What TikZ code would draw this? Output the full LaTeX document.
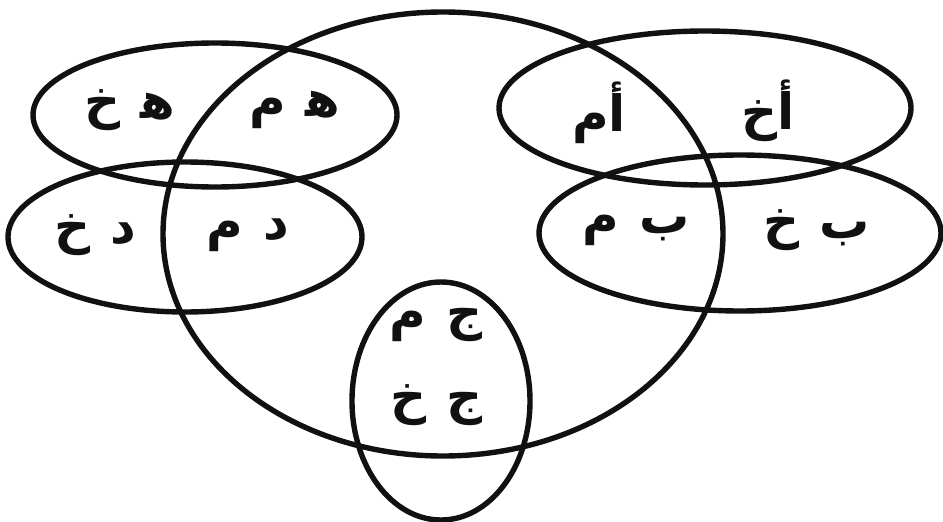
\documentclass[tikz,border=0pt]{standalone}
\usepackage{fontspec}
\usetikzlibrary{shapes.geometric}
\newfontfamily\arabicfont[Script=Arabic]{DejaVu Sans}
\TeXXeTstate=1
\definecolor{VInk}{HTML}{111111}
\tikzset{
  region/.style={draw=VInk,line width=5.4pt,ellipse,inner sep=0pt},
  pair/.style={text=VInk,font=\arabicfont\bfseries\fontsize{50}{56}\selectfont},
}
\newcommand{\rtl}[1]{\beginR #1\endR}

\begin{document}
\begin{tikzpicture}[x=1pt,y=-1pt]
  \useasboundingbox (0,0) rectangle (943,522);
  % the big set and the five small ones
  \node[region,minimum width=560pt,minimum height=444pt] (whole) at (443,234) {};
  \node[region,minimum width=364pt,minimum height=144pt] (seth) at (215,115) {};
  \node[region,minimum width=354pt,minimum height=150pt] (setd) at (185,237) {};
  \node[region,minimum width=412pt,minimum height=154pt] (seta) at (705,108) {};
  \node[region,minimum width=402pt,minimum height=156pt] (setb) at (740,233) {};
  \node[region,minimum width=178pt,minimum height=238pt] (setj) at (441,401) {};

  % labels
  \node[pair] (hkh) at (130,110) {\rtl{ه^^^^200d\hspace{.4em}خ}};
  \node[pair] (hm)  at (295,110) {\rtl{ه^^^^200d\hspace{.4em}م}};
  \node[pair] (dkh) at (95,235)  {\rtl{د\hspace{.4em}خ}};
  \node[pair] (dm)  at (248,235) {\rtl{د\hspace{.4em}م}};
  \node[pair] (am)  at (599,113) {\rtl{أم}};
  \node[pair] (akh) at (768,111) {\rtl{أخ}};
  \node[pair] (bm)  at (636,230) {\rtl{ب\hspace{.4em}م}};
  \node[pair] (bkh) at (817,230) {\rtl{ب\hspace{.4em}خ}};
  \node[pair] (jm)  at (436,325) {\rtl{ج\hspace{.4em}م}};
  \node[pair] (jkh) at (437,405) {\rtl{ج\hspace{.4em}خ}};
\end{tikzpicture}
\end{document}
